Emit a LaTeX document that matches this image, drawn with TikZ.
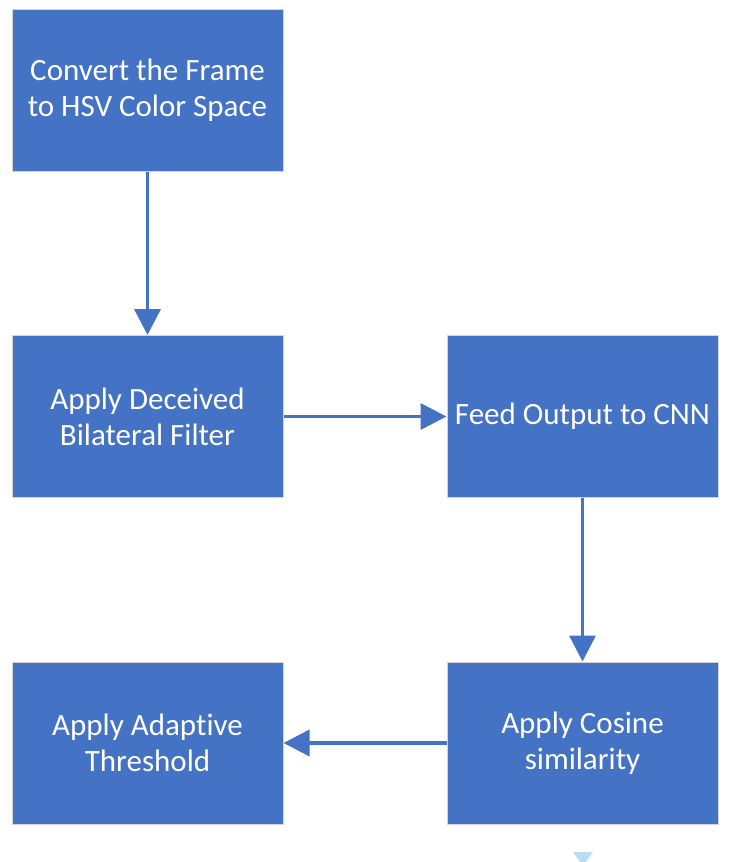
\documentclass[tikz,border=0pt]{standalone}
\usepackage{fontspec}
\setmainfont{Carlito}[Ligatures={NoCommon}]
\usetikzlibrary{arrows.meta}
\definecolor{boxblue}{HTML}{4472C4}
\definecolor{boxedge}{HTML}{D4D4D4}
\definecolor{paleblue}{HTML}{B7DDF0}
\tikzset{
  stepbox/.style={draw=boxedge, line width=1pt, fill=boxblue, text=white,
    minimum width=271pt, minimum height=162pt, inner sep=0pt,
    align=center, font=\fontsize{31}{36}\selectfont},
  flow/.style={draw=boxblue, line width=3.5pt,
    -{Triangle[length=26pt,width=26pt]}}
}
\begin{document}
\begin{tikzpicture}[x=1pt,y=-1pt]
  \useasboundingbox (0,0) rectangle (747,862);
  \node[stepbox] (hsv) at (147.5,90.5) {Convert the Frame\\to HSV Color Space};
  \node[stepbox] (bil) at (147.5,416.5) {Apply Deceived\\Bilateral Filter};
  \node[stepbox] (cnn) at (582.5,416.5) {Feed Output to CNN};
  \node[stepbox] (cos) at (582.5,743) {Apply Cosine\\similarity};
  \node[stepbox] (thr) at (147.5,743) {Apply Adaptive\\Threshold};
  \draw[flow] (hsv) -- (bil);
  \draw[flow] (bil) -- (cnn);
  \draw[flow] (cnn) -- (cos);
  \draw[flow] (cos) -- (thr);
  % partly visible marker below the last step
  \begin{scope}
    \clip (0,0) rectangle (747,862);
    \fill[paleblue] (573,852) -- (593,852) -- (583,866) -- cycle;
  \end{scope}
\end{tikzpicture}
\end{document}
